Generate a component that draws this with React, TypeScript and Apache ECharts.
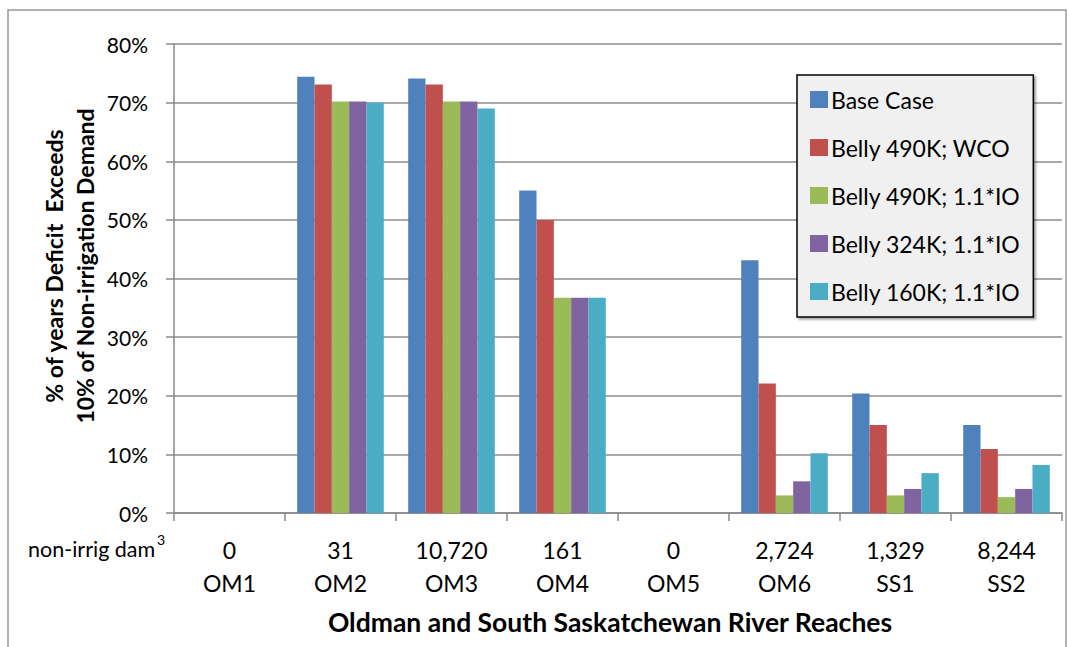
import React, { useEffect, useRef } from "react";
import * as echarts from "echarts";

const reaches = ["OM1", "OM2", "OM3", "OM4", "OM5", "OM6", "SS1", "SS2"];
const volumes = ["0", "31", "10,720", "161", "0", "2,724", "1,329", "8,244"];
const seriesNames = [
  "Base Case",
  "Belly 490K; WCO",
  "Belly 490K; 1.1*IO",
  "Belly 324K; 1.1*IO",
  "Belly 160K; 1.1*IO",
];
const baseCase = [0, 74.4, 74.1, 55.0, 0, 43.1, 20.4, 15.0];
const belly490WCO = [0, 73.1, 73.1, 50.0, 0, 22.1, 15.0, 10.9];
const belly490IO = [0, 70.2, 70.2, 36.7, 0, 3.0, 3.0, 2.7];
const belly324IO = [0, 70.2, 70.2, 36.7, 0, 5.4, 4.1, 4.1];
const belly160IO = [0, 70.0, 69.0, 36.7, 0, 10.2, 6.8, 8.2];
const yTicks = [0, 10, 20, 30, 40, 50, 60, 70, 80];
const colors = ["#4F81BD", "#C0504D", "#9BBB59", "#8064A2", "#4BACC6"];

const FONT = "Lato, 'Open Sans', sans-serif";

export default function App() {
  const ref = useRef<HTMLDivElement>(null);
  useEffect(() => {
    if (!ref.current) return;
    const chart = echarts.init(ref.current, null, { renderer: "svg" });
    const data = [baseCase, belly490WCO, belly490IO, belly324IO, belly160IO];
    chart.setOption({
      animation: false,
      textStyle: { fontFamily: FONT },
      grid: { left: 174, right: 5, top: 44, bottom: 134, containLabel: false },
      legend: {
        orient: "vertical",
        left: 797,
        top: 75,
        data: seriesNames,
        itemWidth: 18,
        itemHeight: 17,
        itemGap: 25,
        padding: [13, 13, 14, 13],
        backgroundColor: "#f0f0f0",
        borderColor: "#000",
        borderWidth: 1.5,
        borderRadius: 0,
        shadowColor: "rgba(0,0,0,0.35)",
        shadowBlur: 2,
        shadowOffsetX: 2,
        shadowOffsetY: 2,
        icon: "rect",
        textStyle: { fontSize: 23, color: "#000", fontFamily: FONT, padding: [0, 0, 0, -2], lineHeight: 23 },
      },
      xAxis: {
        type: "category",
        data: reaches,
        axisLine: { lineStyle: { color: "#888", width: 1.5 } },
        axisTick: { show: true, length: 8, lineStyle: { color: "#888", width: 1.5 } },
        axisLabel: {
          interval: 0,
          margin: 20,
          fontSize: 23,
          color: "#000",
          lineHeight: 33,
          formatter: (v: string, i: number) => volumes[i] + "\n" + v,
        },
      },
      yAxis: {
        type: "value",
        min: 0,
        max: 80,
        interval: 10,
        axisLine: { show: true, lineStyle: { color: "#888", width: 1.5 } },
        axisTick: { show: true, length: 8, lineStyle: { color: "#888", width: 1.5 } },
        splitLine: { lineStyle: { color: "#8c8c8c", width: 1.5 } },
        axisLabel: {
          margin: 26,
          fontSize: 21,
          color: "#000",
          formatter: (v: number) => (yTicks.includes(v) ? v + "%" : ""),
        },
      },
      series: seriesNames.map((name, i) => ({
        name,
        type: "bar",
        data: data[i],
        barGap: "0%",
        barCategoryGap: "22%",
        itemStyle: { color: colors[i] },
      })),
      graphic: [
        {
          type: "rect",
          shape: { x: 8, y: 10, width: 1058, height: 660 },
          style: { fill: "none", stroke: "#999", lineWidth: 1.5 },
          silent: true,
          z: -10,
        },
        {
          type: "text",
          x: 28,
          y: 549,
          style: { text: "non-irrig dam", fontSize: 21.5, fontFamily: FONT, fill: "#000", verticalAlign: "middle" },
        },
        {
          type: "text",
          x: 157,
          y: 539,
          style: { text: "3", fontSize: 14, fontFamily: FONT, fill: "#000", verticalAlign: "middle" },
        },
        {
          type: "text",
          x: 610,
          y: 622,
          style: {
            text: "Oldman and South Saskatchewan River Reaches",
            fontSize: 26.5,
            fontWeight: "bold",
            fontFamily: FONT,
            fill: "#000",
            align: "center",
            verticalAlign: "middle",
          },
        },
        {
          type: "text",
          x: 69,
          y: 266,
          rotation: Math.PI / 2,
          style: {
            text: "% of years Deficit  Exceeds\n10% of Non-irrigation Demand",
            fontSize: 23,
            fontWeight: "bold",
            fontFamily: FONT,
            fill: "#000",
            align: "center",
            verticalAlign: "middle",
            lineHeight: 31,
          },
        },
      ],
    });
    return () => chart.dispose();
  }, []);
  return (
    <div
      ref={ref}
      style={{ position: "fixed", left: 0, top: 0, width: 1067, height: 647, background: "#fff" }}
    />
  );
}
